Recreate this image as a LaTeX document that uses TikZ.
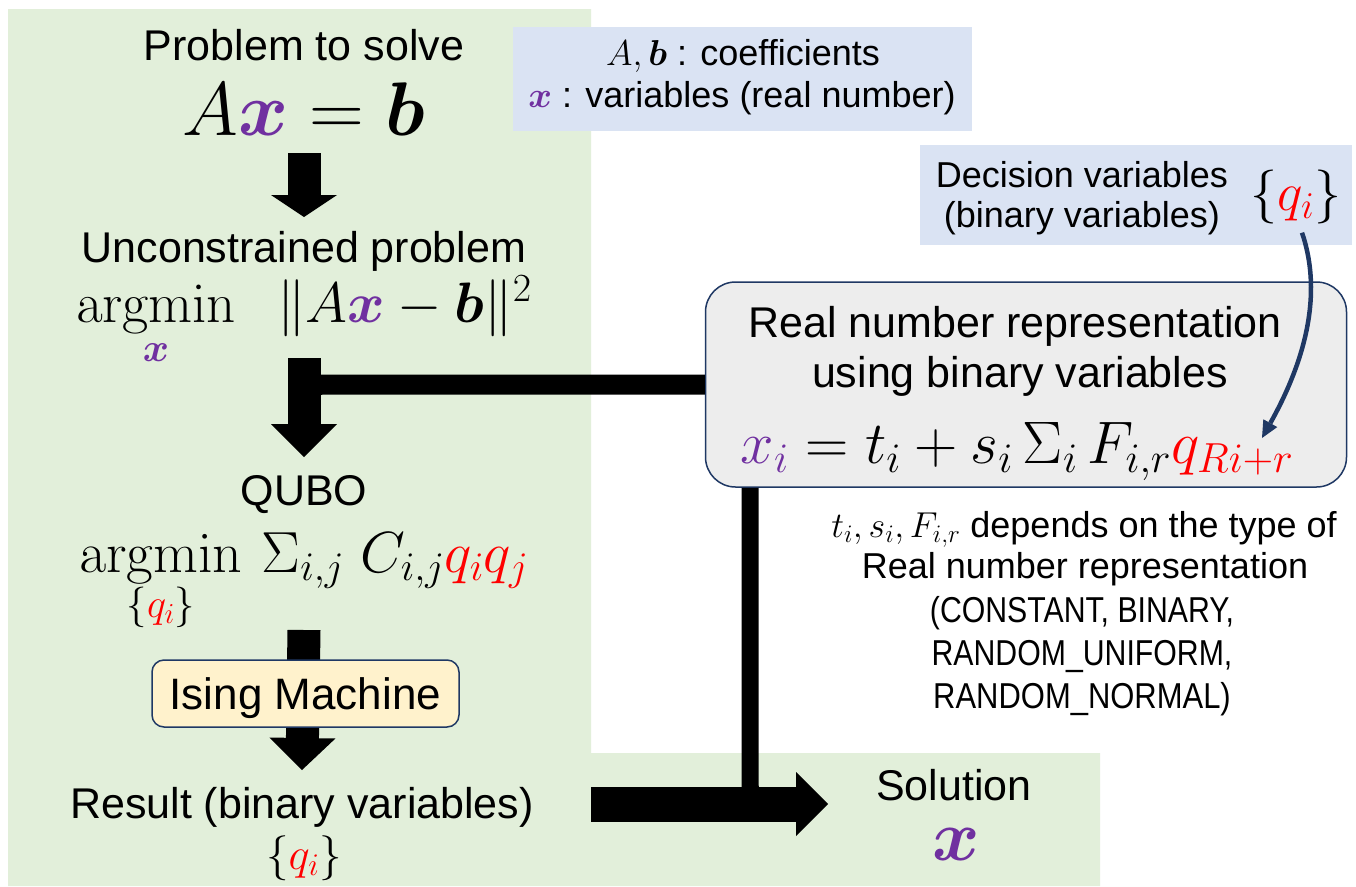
\RequirePackage{fix-cm}
\documentclass[tikz,border=0pt]{standalone}
\usepackage{amsmath}
\usepackage[no-math]{fontspec}
\setmainfont{Liberation Sans}
\usepackage{graphicx}
\usetikzlibrary{arrows.meta}

\definecolor{panelgreen}{HTML}{E2EFDA}
\definecolor{notebg}{HTML}{DAE3F3}
\definecolor{navy}{HTML}{1F3864}
\definecolor{repfill}{HTML}{EDEDED}
\definecolor{machfill}{HTML}{FFF2CC}
\definecolor{purp}{HTML}{7030A0}
\definecolor{qred}{HTML}{FF0000}

\newcommand{\vx}{\textcolor{purp}{\boldsymbol{x}}}
\newcommand{\vb}{\boldsymbol{b}}
\newcommand{\qcol}[1]{\textcolor{qred}{#1}}
\newcommand{\argminop}{\mathop{\mathrm{argmin}}\limits}

\begin{document}
\begin{tikzpicture}[x=1pt,y=-1pt,
  txt/.style={inner sep=0pt, anchor=base, font=\fontsize{43}{48}\selectfont},
  small/.style={inner sep=0pt, anchor=base, font=\fontsize{36}{42}\selectfont},
  mth/.style={inner sep=0pt, anchor=base, font=\fontsize{#1}{#1}\selectfont},
  notebox/.style={fill=notebg, draw=none, inner sep=0pt},
  blockarrow/.style={line width=33pt, -{Triangle[width=66pt,length=#1,line width=0pt]}},
  bar/.style={line width=#1, rounded corners=20pt},
]
\useasboundingbox (0,0) rectangle (1356,886);
\fill[white] (0,0) rectangle (1356,886);

% green panels: main column and solution area
\fill[panelgreen] (8,9) -- (591,9) -- (591,753) -- (1100,753) -- (1100,886) -- (8,886) -- cycle;

% legend boxes
\node[notebox, minimum width=459pt, minimum height=104pt] (coefbox) at (742.5,79) {};
\node[notebox, minimum width=432pt, minimum height=100pt] (decbox) at (1136,195) {};

% real number representation box
\node[draw=navy, line width=1.5pt, fill=repfill, rounded corners=30pt,
      minimum width=641pt, minimum height=205pt, inner sep=0pt] (repbox) at (1026,384.5) {};

% left column
\node[txt] (prob) at (304,60) {Problem to solve};
\node[mth=76] (axb) at (304,135) {$A\vx=\vb$};
\node[txt] (unc) at (304,262) {Unconstrained problem};
\node[mth=57] (lsq) at (304,322) {$\argminop_{\rule{0pt}{24pt}\vx}\;\;\|A\vx-\vb\|^2$};
\node[txt] (qubo) at (304,505) {QUBO};
\node[mth=58] (qobj) at (304,572) {$\argminop_{\{\qcol{q_i}\}}\,\Sigma_{i,j}\;C_{i,j}\qcol{q_iq_j}$};
\node[txt] (res) at (302,818) {Result (binary variables)};
\node[mth=45] (resq) at (304,869) {$\{\qcol{q_i}\}$};

% solution
\node[txt] (sol) at (954,800) {Solution};
\node[mth=72] (solx) at (956,860) {$\vx$};

% legend texts
\node[small] (coefA) at (743,65) {$A,\vb$ : coefficients};
\node[small] (coefX) at (742,107) {$\vx$ : variables (real number)};
\node[small] (dec1) at (1082,187) {Decision variables};
\node[small] (dec2) at (1082,227) {(binary variables)};
\node[mth=54] (qset) at (1296,210) {$\{\qcol{q_i}\}$};

% representation texts
\node[txt] (rep1) at (1015,337) {Real number representation};
\node[txt] (rep2) at (1020,387) {using binary variables};
\node[mth=60] (rep3) at (1017,463) {$\textcolor{purp}{x_i}=t_i+s_i\,\Sigma_i\,F_{i,r}\qcol{q_{Ri+r}}$};

% notes on representation types
\node[small] (dep1) at (1084,537) {$t_i,s_i,F_{i,r}$ depends on the type of};
\node[small] (dep2) at (1085,578) {Real number representation};
\node[small] (dep3) at (1082,622) {\scalebox{0.84}[1]{(CONSTANT, BINARY,}};
\node[small] (dep4) at (1082,665) {\scalebox{0.84}[1]{RANDOM\_UNIFORM,}};
\node[small] (dep5) at (1082,708) {\scalebox{0.86}[1]{RANDOM\_NORMAL)}};

% flow arrows of the main column
\draw[blockarrow=22pt] ([yshift=-18pt]axb.base) -- ([yshift=45pt]unc.base);
\draw[blockarrow=33pt] ([yshift=-36pt]lsq.base) -- ([yshift=48pt]qubo.base);
\draw[blockarrow=32pt] ([yshift=-58pt]qobj.base) -- ([yshift=48pt]res.base);

% representation feeds into the QUBO step and the solution
\coordinate (merge1) at (304,420);
\draw[bar=20pt] (repbox.west) -| (merge1);
\coordinate (merge2) at (790,804);
\draw[bar=17pt] ([xshift=-276pt]repbox.south) |- (merge2);

\coordinate (outstart) at (591,804);
\coordinate (outtip) at (828,804);
\draw[line width=35pt, -{Triangle[width=64pt,length=32pt,line width=0pt]}] (outstart) -- (outtip);

% Ising machine on top of the arrow
\node[draw=navy, line width=1.5pt, fill=machfill, rounded corners=12pt,
      minimum width=307pt, minimum height=67pt, inner sep=0pt, text depth=0pt,
      font=\fontsize{44}{48}\selectfont] (ising) at (305.5,693.5) {Ising Machine};

% decision variables enter the representation
\coordinate (qtarget) at (1262,438);
\draw[navy, line width=4.5pt, -{Triangle[length=17pt,width=16pt,line width=0pt]}]
  ([xshift=6pt,yshift=-9pt]qset.south) .. controls (1325,300) and (1300,370) .. (qtarget);
\end{tikzpicture}
\end{document}
